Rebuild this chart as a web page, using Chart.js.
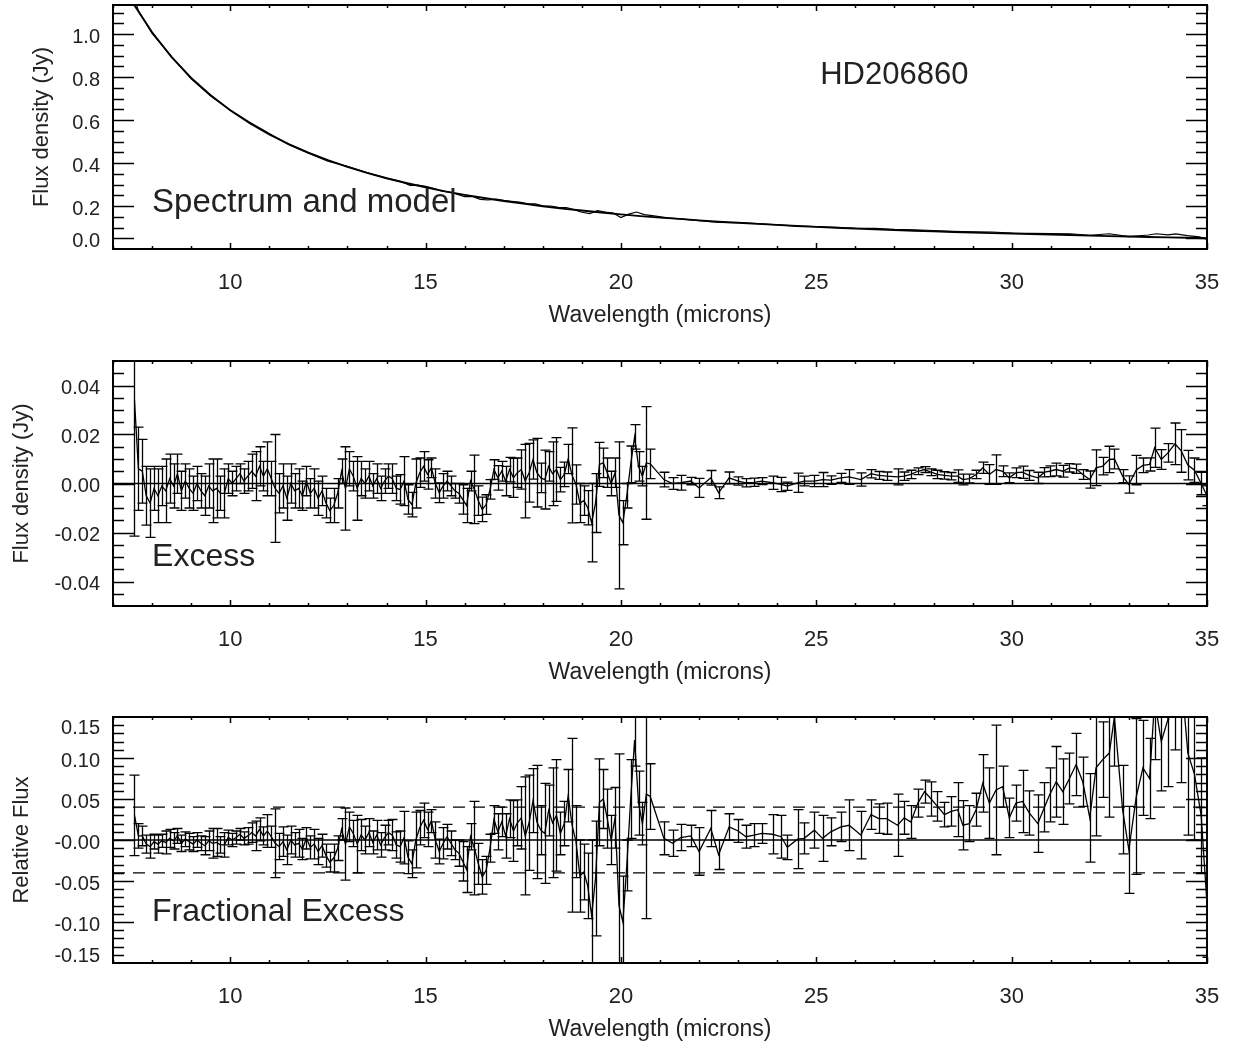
<!DOCTYPE html>
<html><head><meta charset="utf-8"><title>HD206860</title>
<script src="https://cdn.jsdelivr.net/npm/chart.js@4.4.1/dist/chart.umd.min.js"></script>
<style>
html,body{margin:0;padding:0;background:#fff;overflow:hidden}
#wrap{position:relative;width:1236px;height:1046px;background:#fff}
#wrap canvas{position:absolute;left:0}
</style></head>
<body><div id="wrap">
<canvas id="p1" width="1236" height="329" style="top:0px"></canvas>
<canvas id="p2" width="1236" height="346" style="top:340px"></canvas>
<canvas id="p3" width="1236" height="343" style="top:700px"></canvas>
</div>
<script>
// ---------------- data ----------------
const modelWl = [7.45,7.5,8.0,8.5,9.0,9.5,10.0,10.5,11.0,11.5,12.0,12.5,13.0,13.5,14.0,14.5,15.0,15.5,16.0,16.5,17.0,17.5,18.0,18.5,19.0,19.5,20.0,20.5,21.0,21.5,22.0,22.5,23.0,23.5,24.0,24.5,25.0,25.5,26.0,26.5,27.0,27.5,28.0,28.5,29.0,29.5,30.0,30.5,31.0,31.5,32.0,32.5,33.0,33.5,34.0,34.5,35.0];
const modelFlux = [1.162,1.147,1.008,0.893,0.796,0.715,0.645,0.585,0.533,0.488,0.448,0.413,0.382,0.354,0.329,0.307,0.287,0.268,0.252,0.237,0.223,0.211,0.199,0.188,0.179,0.170,0.161,0.153,0.146,0.140,0.133,0.127,0.122,0.117,0.112,0.107,0.103,0.099,0.095,0.092,0.088,0.085,0.082,0.079,0.077,0.074,0.072,0.069,0.067,0.065,0.062,0.060,0.058,0.056,0.054,0.052,0.050];

const specWl = [7.55,7.65,8.0,8.5,9.0,9.5,10.0,10.5,11.0,11.5,12.0,12.5,13.0,13.5,14.0,14.4,14.6,14.8,15.0,15.2,15.4,15.6,15.8,16.0,16.2,16.4,16.6,16.8,17.0,17.2,17.4,17.6,17.8,18.0,18.2,18.4,18.6,18.8,19.0,19.2,19.4,19.6,19.8,20.0,20.2,20.4,20.6,20.8,21.2,21.5,22.0,22.5,23.0,23.5,24.0,24.5,25.0,25.5,26.0,26.5,27.0,27.5,28.0,28.5,29.0,29.5,30.0,30.5,31.0,31.5,32.0,32.5,33.0,33.5,33.7,34.0,34.2,34.5,34.8,35.0];
const specFlux = [1.165,1.108,1.003,0.895,0.792,0.712,0.646,0.590,0.537,0.485,0.446,0.408,0.384,0.355,0.330,0.312,0.296,0.297,0.292,0.282,0.270,0.265,0.255,0.244,0.245,0.231,0.228,0.232,0.226,0.222,0.218,0.211,0.210,0.201,0.200,0.194,0.193,0.183,0.171,0.165,0.178,0.172,0.167,0.146,0.162,0.172,0.160,0.155,0.145,0.140,0.132,0.124,0.123,0.118,0.112,0.107,0.104,0.101,0.097,0.096,0.091,0.089,0.086,0.082,0.080,0.079,0.074,0.073,0.072,0.071,0.064,0.071,0.058,0.065,0.071,0.066,0.070,0.062,0.056,0.046];

// wavelength grids of the three IRS modules
const wlSL = [7.55,7.65,7.75,7.85,7.95,8.05,8.15,8.25,8.35,8.45,8.55,8.65,8.75,8.85,8.95,9.05,9.15,9.25,9.35,9.45,9.55,9.65,9.75,9.85,9.95,10.05,10.15,10.25,10.35,10.45,10.55,10.65,10.75,10.85,10.95,11.05,11.15,11.25,11.35,11.45,11.55,11.65,11.75,11.85,11.95,12.05,12.15,12.25,12.35,12.45,12.55,12.65,12.75,12.85,12.95,13.05,13.15,13.25,13.35,13.45,13.55,13.65,13.75,13.85,13.95,14.05,14.15,14.25];
const wlLL2 = [14.35,14.45,14.55,14.65,14.75,14.85,14.95,15.05,15.15,15.25,15.35,15.45,15.55,15.65,15.75,15.85,15.95,16.05,16.15,16.25,16.35,16.45,16.55,16.65,16.75,16.85,16.95,17.05,17.15,17.25,17.35,17.45,17.55,17.65,17.75,17.85,17.95,18.05,18.15,18.25,18.35,18.45,18.55,18.65,18.75,18.85,18.95,19.05,19.15,19.25,19.35,19.45,19.55,19.65,19.75,19.85,19.95,20.05,20.15,20.25,20.35,20.45,20.55,20.65,20.75];
const wlLL1 = [21.1,21.32,21.53,21.79,22.0,22.3,22.5,22.77,23.0,23.2,23.41,23.6,23.88,24.1,24.26,24.52,24.69,24.95,25.16,25.37,25.63,25.84,26.14,26.4,26.6,26.8,27.08,27.25,27.42,27.6,27.77,27.94,28.1,28.28,28.45,28.62,28.75,28.92,29.09,29.26,29.43,29.6,29.77,29.94,30.11,30.28,30.45,30.67,30.84,30.97,31.14,31.31,31.48,31.65,31.82,32.0,32.16,32.33,32.5,32.63,32.84,33.0,33.19,33.36,33.53,33.66,33.83,34.0,34.18,34.34,34.51,34.68,34.85,35.0];

// excess (Jy) and its error
const excessSL = [0.034,0.006,0.005,-0.005,-0.008,-0.002,-0.005,-0.001,-0.003,0.002,-0.001,0.004,-0.003,0.001,-0.002,-0.004,0.000,-0.003,-0.005,-0.001,-0.003,-0.002,-0.004,-0.004,0.002,0.000,0.002,0.004,0.001,0.003,0.005,0.003,0.007,0.003,0.006,0.002,-0.002,-0.004,-0.001,-0.006,0.000,-0.003,-0.002,-0.005,0.001,-0.004,-0.002,-0.006,-0.003,-0.008,-0.011,-0.009,-0.004,0.005,-0.002,0.006,0.003,-0.002,0.002,0.000,0.003,-0.001,0.002,-0.002,0.001,0.003,0.002,-0.002];
const excessErrSL = [0.0555,0.017,0.013,0.012,0.014,0.009,0.011,0.008,0.013,0.010,0.009,0.008,0.008,0.007,0.008,0.007,0.007,0.007,0.008,0.009,0.013,0.012,0.007,0.010,0.006,0.005,0.005,0.004,0.005,0.006,0.007,0.010,0.008,0.006,0.011,0.007,0.022,0.008,0.009,0.009,0.008,0.007,0.008,0.006,0.006,0.006,0.008,0.007,0.006,0.006,0.005,0.007,0.006,0.005,0.017,0.007,0.006,0.013,0.007,0.006,0.006,0.005,0.006,0.005,0.005,0.005,0.006,0.005];
const excessLL2 = [-0.0024,0.0010,-0.0065,-0.0086,0.0000,0.0044,0.0070,0.0037,0.0064,0.0000,-0.0038,-0.0010,0.0010,-0.0010,-0.0030,-0.0040,-0.0065,-0.0090,0.0010,-0.0024,-0.0070,-0.0106,-0.0086,-0.0024,0.0057,0.0023,0.0050,0.0010,0.0057,0.0023,0.0044,0.0057,0.0010,0.0044,0.0098,0.0044,0.0023,0.0016,0.0070,0.0040,0.0057,0.0016,0.0037,0.0100,0.0033,-0.0004,-0.0080,-0.0070,-0.0099,-0.0160,-0.0080,0.0078,0.0084,0.0044,0.0000,0.0044,-0.0130,-0.0160,-0.0050,0.0078,0.0190,0.0070,0.0030,0.0084,0.0080];
const excessErrLL2 = [0.006,0.010,0.006,0.005,0.010,0.006,0.006,0.006,0.004,0.006,0.004,0.005,0.004,0.004,0.003,0.004,0.006,0.007,0.004,0.014,0.006,0.005,0.004,0.004,0.004,0.005,0.004,0.006,0.005,0.008,0.006,0.008,0.015,0.012,0.008,0.014,0.006,0.012,0.006,0.013,0.013,0.005,0.005,0.006,0.0194,0.008,0.008,0.006,0.007,0.016,0.012,0.009,0.006,0.006,0.005,0.006,0.030,0.009,0.005,0.0075,0.005,0.006,0.004,0.023,0.006];
const excessLL1 = [0.0016,0.0000,0.0003,0.0010,-0.0018,0.0023,-0.0038,0.0023,0.0010,0.0003,0.0005,0.0010,0.0003,-0.0004,-0.0011,0.0003,0.0010,0.0010,0.0016,0.0014,0.0023,0.0027,0.0016,0.0040,0.0033,0.0030,0.0027,0.0030,0.0037,0.0050,0.0057,0.0046,0.0037,0.0033,0.0030,0.0030,0.0016,0.0020,0.0037,0.0064,0.0037,0.0057,0.0050,0.0023,0.0044,0.0046,0.0033,0.0023,0.0046,0.0050,0.0057,0.0050,0.0064,0.0060,0.0037,0.0016,0.0064,0.0071,0.0098,0.0100,0.0030,-0.0004,0.0055,0.0074,0.0078,0.0146,0.0098,0.0125,0.0162,0.0133,0.0075,0.0054,0.0000,-0.0050];
const excessErrLL1 = [0.0030,0.0024,0.0030,0.0015,0.0039,0.0030,0.0024,0.0024,0.0017,0.0017,0.0017,0.0014,0.0027,0.0029,0.0017,0.0039,0.0020,0.0023,0.0029,0.0017,0.0018,0.0030,0.0027,0.0017,0.0016,0.0017,0.0033,0.0017,0.0017,0.0014,0.0012,0.0014,0.0017,0.0015,0.0015,0.0026,0.0022,0.0018,0.0017,0.0023,0.0040,0.0060,0.0022,0.0020,0.0020,0.0025,0.0020,0.0023,0.0019,0.0022,0.0026,0.0024,0.0017,0.0019,0.0020,0.0035,0.0073,0.0036,0.0054,0.0040,0.0027,0.0035,0.0060,0.0030,0.0027,0.0080,0.0040,0.0038,0.0085,0.0087,0.0060,0.0050,0.0046,0.0040];

// fractional excess (relative flux) and its error
const fracSL = [0.030,0.005,0.005,-0.005,-0.008,-0.002,-0.005,-0.001,-0.003,0.002,-0.001,0.005,-0.004,0.001,-0.002,-0.005,0.000,-0.004,-0.007,-0.001,-0.004,-0.003,-0.006,-0.006,0.003,0.000,0.003,0.007,0.002,0.005,0.009,0.005,0.013,0.005,0.011,0.004,-0.004,-0.008,-0.002,-0.012,0.000,-0.006,-0.004,-0.011,0.002,-0.009,-0.005,-0.014,-0.007,-0.019,-0.027,-0.022,-0.010,0.013,-0.005,0.016,0.008,-0.005,0.006,0.000,0.009,-0.003,0.006,-0.006,0.003,0.009,0.006,-0.006];
const fracErrSL = [0.049,0.015,0.012,0.011,0.014,0.009,0.011,0.008,0.014,0.011,0.010,0.009,0.010,0.009,0.010,0.009,0.009,0.009,0.011,0.012,0.018,0.017,0.010,0.015,0.009,0.008,0.008,0.007,0.008,0.010,0.012,0.018,0.014,0.011,0.020,0.013,0.042,0.016,0.018,0.018,0.017,0.015,0.017,0.013,0.013,0.014,0.018,0.016,0.014,0.014,0.012,0.017,0.015,0.013,0.044,0.018,0.016,0.035,0.019,0.017,0.017,0.014,0.018,0.015,0.015,0.015,0.019,0.016];
const fracLL2 = [-0.008,0.003,-0.021,-0.029,0.000,0.015,0.024,0.013,0.023,0.000,-0.014,-0.004,0.004,-0.004,-0.012,-0.016,-0.026,-0.036,0.004,-0.010,-0.029,-0.045,-0.037,-0.010,0.025,0.010,0.022,0.005,0.026,0.011,0.021,0.027,0.005,0.021,0.048,0.022,0.012,0.008,0.036,0.021,0.030,0.008,0.020,0.054,0.018,-0.002,-0.044,-0.039,-0.056,-0.092,-0.047,0.046,0.050,0.026,0.000,0.027,-0.080,-0.100,-0.031,0.050,0.122,0.045,0.020,0.056,0.053];
const fracErrLL2 = [0.019,0.032,0.020,0.017,0.034,0.021,0.021,0.021,0.014,0.022,0.015,0.019,0.015,0.015,0.012,0.016,0.024,0.028,0.016,0.057,0.025,0.021,0.017,0.017,0.017,0.022,0.018,0.027,0.023,0.037,0.028,0.038,0.072,0.058,0.039,0.069,0.030,0.061,0.031,0.067,0.068,0.026,0.027,0.032,0.106,0.044,0.044,0.034,0.040,0.092,0.070,0.053,0.036,0.036,0.030,0.037,0.185,0.056,0.031,0.048,0.032,0.039,0.026,0.152,0.040];
const fracLL1 = [0.002,-0.004,0.003,0.005,-0.014,0.014,-0.018,0.016,0.011,0.004,0.006,0.008,0.007,0.004,-0.009,0.001,0.002,0.012,0.002,0.010,0.016,0.018,0.006,0.031,0.026,0.026,0.018,0.027,0.022,0.045,0.059,0.050,0.041,0.031,0.035,0.037,0.018,0.020,0.037,0.069,0.045,0.061,0.065,0.027,0.045,0.047,0.033,0.020,0.040,0.055,0.071,0.059,0.075,0.092,0.071,0.027,0.088,0.098,0.106,0.150,0.037,-0.012,0.053,0.088,0.075,0.170,0.120,0.147,0.250,0.200,0.106,0.080,0.030,-0.078];
const fracErrLL1 = [0.020,0.016,0.016,0.013,0.029,0.022,0.018,0.016,0.014,0.014,0.014,0.012,0.024,0.026,0.015,0.036,0.019,0.022,0.028,0.017,0.018,0.031,0.029,0.018,0.018,0.019,0.038,0.020,0.020,0.017,0.014,0.021,0.018,0.015,0.018,0.033,0.030,0.022,0.020,0.035,0.043,0.079,0.025,0.024,0.022,0.038,0.027,0.035,0.030,0.033,0.043,0.040,0.031,0.038,0.030,0.054,0.083,0.046,0.078,0.060,0.054,0.053,0.095,0.058,0.049,0.072,0.060,0.082,0.140,0.130,0.100,0.080,0.070,0.065];

// reference levels
const refLineX = [7, 35];
const fracBand = 0.04;

// axis ticks and labels
const xTickValues = [10, 15, 20, 25, 30, 35];
const xTickLabels = ['10', '15', '20', '25', '30', '35'];
const xMinorTicks = [7,8,9,11,12,13,14,16,17,18,19,21,22,23,24,26,27,28,29,31,32,33,34];
const p1YTicks = [0.05, 0.2, 0.4, 0.6, 0.8, 1.0];
const p1YLabels = ['0.0', '0.2', '0.4', '0.6', '0.8', '1.0'];
const p1YMinor = [0.05,0.1,0.15,0.2,0.25,0.3,0.35,0.4,0.45,0.5,0.55,0.6,0.65,0.7,0.75,0.8,0.85,0.9,0.95,1.0,1.05,1.1];
const p2YTicks = [-0.04, -0.02, 0.0, 0.02, 0.04];
const p2YLabels = ['-0.04', '-0.02', '0.00', '0.02', '0.04'];
const p2YMinor = [-0.045,-0.04,-0.035,-0.03,-0.025,-0.02,-0.015,-0.01,-0.005,0,0.005,0.01,0.015,0.02,0.025,0.03,0.035,0.04,0.045];
const p3YTicks = [-0.10, -0.05, 0.0, 0.05, 0.10];
const p3YLabelAt = [-0.138, -0.10, -0.05, 0.0, 0.05, 0.10, 0.14];   // edge labels sit just inside the frame
const p3YLabels = ['-0.15', '-0.10', '-0.05', '-0.00', '0.05', '0.10', '0.15'];
const p3YMinor = [-0.14,-0.13,-0.12,-0.11,-0.1,-0.09,-0.08,-0.07,-0.06,-0.05,-0.04,-0.03,-0.02,-0.01,0,0.01,0.02,0.03,0.04,0.05,0.06,0.07,0.08,0.09,0.1,0.11,0.12,0.13,0.14];

// ---------------- rendering ----------------
const FONT = '"Liberation Sans", Arial, Helvetica, sans-serif';
const TXT = '#222';
const wavelength = wlSL.concat(wlLL2, wlLL1);
const excess = excessSL.concat(excessLL2, excessLL1);
const excessErr = excessErrSL.concat(excessErrLL2, excessErrLL1);
const frac = fracSL.concat(fracLL2, fracLL1);
const fracErr = fracErrSL.concat(fracErrLL2, fracErrLL1);

function xy(xs, ys) { return xs.map((v, i) => ({x: v, y: ys[i]})); }

function idlPlugin(p) {
  return {
    id: 'idl_' + p.id,
    beforeDatasetsDraw(chart) {
      if (!p.err) return;
      const {ctx, chartArea: a, scales: {x, y}} = chart;
      ctx.save();
      ctx.beginPath(); ctx.rect(a.left, a.top, a.right - a.left, a.bottom - a.top); ctx.clip();
      ctx.strokeStyle = '#000'; ctx.lineWidth = 1.3;
      ctx.beginPath();
      p.err.x.forEach((w, i) => {
        const px = Math.round(x.getPixelForValue(w)) + 0.5;
        const v = p.err.y[i], e = p.err.e[i];
        const y1 = y.getPixelForValue(v + e), y2 = y.getPixelForValue(v - e);
        ctx.moveTo(px, y1); ctx.lineTo(px, y2);
        ctx.moveTo(px - p.cap, y1); ctx.lineTo(px + p.cap, y1);
        ctx.moveTo(px - p.cap, y2); ctx.lineTo(px + p.cap, y2);
      });
      ctx.stroke();
      ctx.restore();
    },
    afterDraw(chart) {
      const {ctx, chartArea: a, scales: {x, y}} = chart;
      ctx.save();
      ctx.strokeStyle = '#000';
      ctx.lineWidth = 1.5;
      ctx.beginPath();
      const tick = (vals, len, isX) => vals.forEach(v => {
        if (isX) {
          const px = Math.round(x.getPixelForValue(v)) + 0.5;
          ctx.moveTo(px, a.bottom); ctx.lineTo(px, a.bottom - len);
          ctx.moveTo(px, a.top); ctx.lineTo(px, a.top + len);
        } else {
          const py = Math.round(y.getPixelForValue(v)) + 0.5;
          ctx.moveTo(a.left, py); ctx.lineTo(a.left + len, py);
          ctx.moveTo(a.right, py); ctx.lineTo(a.right - len, py);
        }
      });
      tick(xMinorTicks, 3, true);
      tick(xTickValues, 6, true);
      tick(p.yMinor, 11, false);
      tick(p.yMajor, 21, false);
      ctx.stroke();
      ctx.lineWidth = 2;
      ctx.strokeRect(a.left, a.top, a.right - a.left, a.bottom - a.top);
      ctx.fillStyle = TXT; ctx.textBaseline = 'middle'; ctx.textAlign = 'left';
      p.texts.forEach(t => {
        ctx.font = t.size + 'px ' + FONT;
        ctx.fillText(t.text, x.getPixelForValue(t.x), y.getPixelForValue(t.y));
      });
      ctx.restore();
    }
  };
}

function makeChart(p) {
  return new Chart(document.getElementById(p.id), {
    type: 'line',
    data: { datasets: p.datasets },
    options: {
      responsive: false, animation: false, events: [],
      layout: { padding: { top: p.padTop, right: 29, bottom: 0, left: 0 } },
      plugins: { legend: { display: false }, tooltip: { enabled: false } },
      elements: { point: { radius: 0 }, line: { tension: 0 } },
      scales: {
        x: {
          type: 'linear', position: 'bottom', min: 7, max: 35,
          grid: { display: false, drawTicks: false }, border: { display: false },
          afterBuildTicks: s => { s.ticks = xTickValues.map(v => ({ value: v })); },
          ticks: { callback: (v, i) => xTickLabels[i], padding: 21, maxRotation: 0, autoSkip: false,
                   font: { size: 22, family: FONT }, color: TXT },
          title: { display: true, text: 'Wavelength (microns)', color: TXT,
                   font: { size: 23, family: FONT }, padding: { top: 0, bottom: 0 } },
          afterFit: s => { s.height = 80; s.paddingLeft = 0; s.paddingRight = 0; }
        },
        y: {
          type: 'linear', position: 'left', min: p.yMin, max: p.yMax,
          grid: { display: false, drawTicks: false }, border: { display: false },
          afterBuildTicks: s => { s.ticks = p.yLabelAt.map(v => ({ value: v })); },
          ticks: { callback: (v, i) => p.yLabels[i], padding: 13, labelOffset: 3, autoSkip: false,
                   font: { size: 20, family: FONT }, color: TXT },
          title: { display: true, text: p.yTitle, color: TXT,
                   font: { size: 22, family: FONT }, padding: { top: p.yTitlePad, bottom: 0 } },
          afterFit: s => { s.width = 113; s.paddingTop = 0; s.paddingBottom = 0; }
        }
      }
    },
    plugins: [idlPlugin(p)]
  });
}

const lineStyle = (w) => ({ borderColor: '#000', borderWidth: w, pointRadius: 0, fill: false });

makeChart({
  id: 'p1', padTop: 5, yMin: 0, yMax: 1.135, yTitle: 'Flux density (Jy)', yTitlePad: 29,
  yLabelAt: p1YTicks, yLabels: p1YLabels, yMajor: p1YTicks, yMinor: p1YMinor,
  datasets: [
    Object.assign({ data: xy(specWl, specFlux) }, lineStyle(1.2)),
    Object.assign({ data: xy(modelWl, modelFlux) }, lineStyle(1.9))
  ],
  texts: [
    { text: 'HD206860', x: 25.1, y: 0.805, size: 31 },
    { text: 'Spectrum and model', x: 8.0, y: 0.214, size: 33 }
  ]
});

makeChart({
  id: 'p2', padTop: 21, yMin: -0.05, yMax: 0.05, yTitle: 'Flux density (Jy)', yTitlePad: 9,
  yLabelAt: p2YTicks, yLabels: p2YLabels, yMajor: p2YTicks, yMinor: p2YMinor,
  err: { x: wavelength, y: excess, e: excessErr }, cap: 5,
  datasets: [
    Object.assign({ data: xy(refLineX, [0, 0]) }, lineStyle(1.3)),
    Object.assign({ data: xy(wavelength, excess) }, lineStyle(1.3))
  ],
  texts: [ { text: 'Excess', x: 8.0, y: -0.0302, size: 32 } ]
});

makeChart({
  id: 'p3', padTop: 17, yMin: -0.15, yMax: 0.15, yTitle: 'Relative Flux', yTitlePad: 9,
  yLabelAt: p3YLabelAt, yLabels: p3YLabels, yMajor: p3YTicks, yMinor: p3YMinor,
  err: { x: wavelength, y: frac, e: fracErr }, cap: 5,
  datasets: [
    Object.assign({ data: xy(refLineX, [0, 0]) }, lineStyle(1.3)),
    Object.assign({ data: xy(refLineX, [fracBand, fracBand]), borderDash: [12, 8] }, lineStyle(1.3)),
    Object.assign({ data: xy(refLineX, [-fracBand, -fracBand]), borderDash: [12, 8] }, lineStyle(1.3)),
    Object.assign({ data: xy(wavelength, frac) }, lineStyle(1.3))
  ],
  texts: [ { text: 'Fractional Excess', x: 8.0, y: -0.088, size: 32 } ]
});
</script>
</body></html>
